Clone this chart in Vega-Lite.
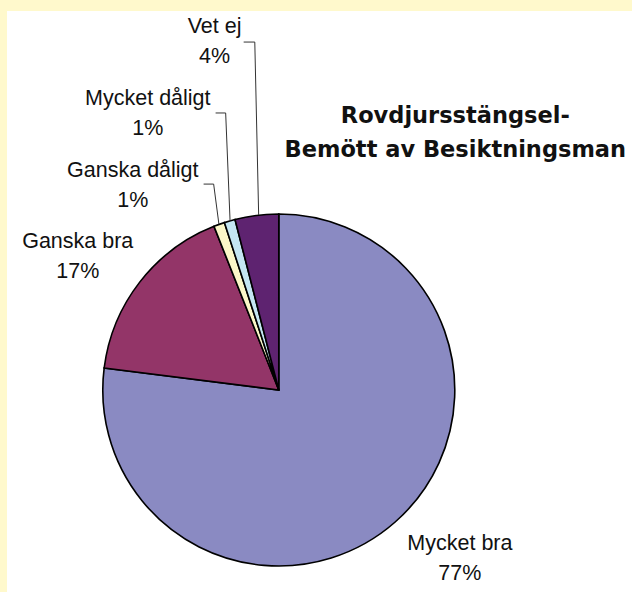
{
  "$schema": "https://vega.github.io/schema/vega-lite/v6.json",
  "width": 632,
  "height": 592,
  "autosize": {"type": "fit", "contains": "padding"},
  "padding": {"left": 7, "top": 11, "right": 0, "bottom": 0},
  "background": "#FFF9CC",
  "view": {"fill": "#FFFFFF", "stroke": null},
  "datasets": {
    "slices": [
      {"kategori": "Mycket bra", "andel": 77, "ordning": 1},
      {"kategori": "Ganska bra", "andel": 17, "ordning": 2},
      {"kategori": "Ganska dåligt", "andel": 1, "ordning": 3},
      {"kategori": "Mycket dåligt", "andel": 1, "ordning": 4},
      {"kategori": "Vet ej", "andel": 4, "ordning": 5}
    ],
    "labels": [
      {"kategori": "Mycket bra", "etikett": "Mycket bra\n77%", "lx": 102.6, "ly": -90.9},
      {"kategori": "Ganska bra", "etikett": "Ganska bra\n17%", "lx": -113.9, "ly": 80.7},
      {"kategori": "Ganska dåligt", "etikett": "Ganska dåligt\n1%", "lx": -82.7, "ly": 121.0},
      {"kategori": "Mycket dåligt", "etikett": "Mycket dåligt\n1%", "lx": -74.2, "ly": 161.9},
      {"kategori": "Vet ej", "etikett": "Vet ej\n4%", "lx": -36.4, "ly": 202.8}
    ],
    "leaders": [
      {"kategori": "Ganska dåligt", "punkt": 1, "lx": -42.6, "ly": 117.0},
      {"kategori": "Ganska dåligt", "punkt": 2, "lx": -36.9, "ly": 117.0},
      {"kategori": "Ganska dåligt", "punkt": 3, "lx": -33.9, "ly": 94.1},
      {"kategori": "Mycket dåligt", "punkt": 1, "lx": -35.8, "ly": 157.4},
      {"kategori": "Mycket dåligt", "punkt": 2, "lx": -30.1, "ly": 157.4},
      {"kategori": "Mycket dåligt", "punkt": 3, "lx": -27.6, "ly": 96.1},
      {"kategori": "Vet ej", "punkt": 1, "lx": -19.9, "ly": 197.7},
      {"kategori": "Vet ej", "punkt": 2, "lx": -13.6, "ly": 197.7},
      {"kategori": "Vet ej", "punkt": 3, "lx": -11.4, "ly": 99.4}
    ],
    "titel": [
      {"rubrik": "Rovdjursstängsel-\nBemött av Besiktningsman", "tx": 100, "ty": 151.7}
    ]
  },
  "layer": [
    {
      "data": {"name": "slices"},
      "mark": {"type": "arc", "outerRadius": 176, "stroke": "#000000", "strokeWidth": 1.6},
      "encoding": {
        "theta": {"field": "andel", "type": "quantitative", "stack": true},
        "order": {"field": "ordning", "type": "quantitative"},
        "color": {
          "field": "kategori",
          "type": "nominal",
          "scale": {
            "domain": ["Mycket bra", "Ganska bra", "Ganska dåligt", "Mycket dåligt", "Vet ej"],
            "range": ["#8A8AC2", "#933568", "#FBF7C8", "#C4E6F2", "#5E2370"]
          },
          "legend": null
        },
        "x": {"datum": 0, "type": "quantitative", "scale": {"domain": [-153.98, 200.11], "nice": false, "zero": false}, "axis": null},
        "y": {"datum": 0, "type": "quantitative", "scale": {"domain": [-114.77, 215.34], "nice": false, "zero": false}, "axis": null}
      }
    },
    {
      "data": {"name": "leaders"},
      "mark": {"type": "line", "color": "#333333", "strokeWidth": 1},
      "encoding": {
        "x": {"field": "lx", "type": "quantitative", "scale": {"domain": [-153.98, 200.11], "nice": false, "zero": false}, "axis": null},
        "y": {"field": "ly", "type": "quantitative", "scale": {"domain": [-114.77, 215.34], "nice": false, "zero": false}, "axis": null},
        "detail": {"field": "kategori", "type": "nominal"},
        "order": {"field": "punkt", "type": "quantitative"}
      }
    },
    {
      "data": {"name": "labels"},
      "mark": {"type": "text", "align": "center", "baseline": "alphabetic", "font": "Liberation Sans", "fontSize": 21.5, "lineBreak": "\n", "lineHeight": 30, "color": "#111111"},
      "encoding": {
        "x": {"field": "lx", "type": "quantitative", "scale": {"domain": [-153.98, 200.11], "nice": false, "zero": false}, "axis": null},
        "y": {"field": "ly", "type": "quantitative", "scale": {"domain": [-114.77, 215.34], "nice": false, "zero": false}, "axis": null},
        "text": {"field": "etikett"}
      }
    },
    {
      "data": {"name": "titel"},
      "mark": {"type": "text", "align": "center", "baseline": "alphabetic", "font": "DejaVu Sans", "fontWeight": "bold", "fontSize": 22.5, "lineBreak": "\n", "lineHeight": 34, "color": "#111111"},
      "encoding": {
        "x": {"field": "tx", "type": "quantitative", "scale": {"domain": [-153.98, 200.11], "nice": false, "zero": false}, "axis": null},
        "y": {"field": "ty", "type": "quantitative", "scale": {"domain": [-114.77, 215.34], "nice": false, "zero": false}, "axis": null},
        "text": {"field": "rubrik"}
      }
    }
  ]
}
